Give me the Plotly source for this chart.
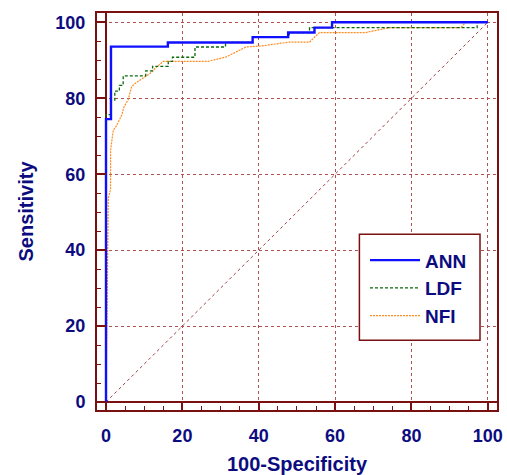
import plotly.graph_objects as go

# ROC curve data (100-Specificity, Sensitivity)
ann_x = [0, 0, 1.3, 16.2, 38.4, 47.7, 54.6, 59.2, 100]
ann_y = [0, 74.5, 93.6, 94.7, 96.1, 97.3, 98.6, 100, 100]

ldf_x = [0, 0, 1.3, 2.3, 3.5, 4.5, 10.4, 12.2, 16.3, 17.4, 23.3, 31.3, 38.4, 48, 53.3, 97.2, 100]
ldf_y = [0, 75.7, 79.5, 81.9, 83.4, 85.9, 87.2, 88.4, 89.7, 90.8, 93.5, 94.7, 96.1, 97.3, 98.6, 100, 100]

nfi_x = [0, 0.6, 1.2, 1.2, 1.9, 2.6, 4.1, 4.7, 5.8, 6.7, 7.6, 9.7, 11.5, 13.2, 15, 26.7, 31.5, 36.7, 41, 48, 53.3, 55.9, 68, 74.2, 92.9, 94.2, 100]
nfi_y = [0, 53.7, 56, 66.3, 71.6, 72.5, 75.5, 77.7, 79.6, 83, 83.9, 85.2, 86.5, 88.2, 89.7, 89.7, 90.9, 93.5, 93.8, 94.8, 94.8, 97.3, 97.3, 98.6, 98.6, 100, 100]

diag_x = [0, 100]
diag_y = [0, 100]

tick_vals = [0, 20, 40, 60, 80, 100]

NAVY = "#0c0c80"
AXIS = "#7a1010"
GRID = "#b05050"
FONT = "Liberation Sans, Arial, sans-serif"

fig = go.Figure()
fig.add_trace(go.Scatter(x=diag_x, y=diag_y, mode="lines", showlegend=False,
                         line=dict(color="#a04040", width=1, dash="dot"), hoverinfo="skip"))
fig.add_trace(go.Scatter(x=nfi_x, y=nfi_y, mode="lines", name="NFI",
                         line=dict(color="#ff8c20", width=1.2, dash="2px,1px")))
fig.add_trace(go.Scatter(x=ldf_x, y=ldf_y, mode="lines", name="LDF", line_shape="hv",
                         line=dict(color="#0a6a0a", width=1.3, dash="3px,2px")))
fig.add_trace(go.Scatter(x=ann_x, y=ann_y, mode="lines", name="ANN", line_shape="hv",
                         line=dict(color="#1010ff", width=2.4)))

axis_common = dict(
    showline=True, linecolor=AXIS, linewidth=2, mirror=True,
    showgrid=True, gridcolor=GRID, gridwidth=1, griddash="dot",
    zeroline=True, zerolinecolor=AXIS, zerolinewidth=1.5,
    tickmode="array", tickvals=tick_vals,
    ticks="inside", tickcolor=AXIS, tickwidth=1.5,
    minor=dict(dtick=5, tick0=0, ticks="inside", ticklen=4, tickcolor=AXIS, tickwidth=1.2, showgrid=False),
    tickfont=dict(family=FONT, size=18, color=NAVY, weight="bold"),
    fixedrange=True, automargin=False,
)

fig.update_xaxes(**axis_common, range=[-2.36, 102.4], ticklen=8,
                 title=dict(text="100-Specificity", font=dict(family=FONT, size=20, color=NAVY, weight="bold"), standoff=12),
                 ticklabelstandoff=8)
fig.update_yaxes(**axis_common, range=[-2.1, 102.45], ticklen=9,
                 title=dict(text="Sensitivity", font=dict(family=FONT, size=20, color=NAVY, weight="bold"), standoff=16),
                 ticklabelstandoff=6)

# Legend box
fig.add_shape(type="rect", xref="paper", yref="paper", x0=0.656, x1=0.9575, y0=0.176, y1=0.443,
              fillcolor="white", line=dict(color=AXIS, width=1.5), layer="above")

fig.update_layout(
    width=507, height=475,
    margin=dict(l=97, r=10, t=13, b=65, autoexpand=False),
    plot_bgcolor="white", paper_bgcolor="white",
    legend=dict(x=0.67, y=0.425, xanchor="left", yanchor="top", bgcolor="rgba(0,0,0,0)",
                traceorder="reversed", itemwidth=50, tracegroupgap=0,
                font=dict(family=FONT, size=19, color=NAVY, weight="bold")),
)

fig.write_html("out.html")
